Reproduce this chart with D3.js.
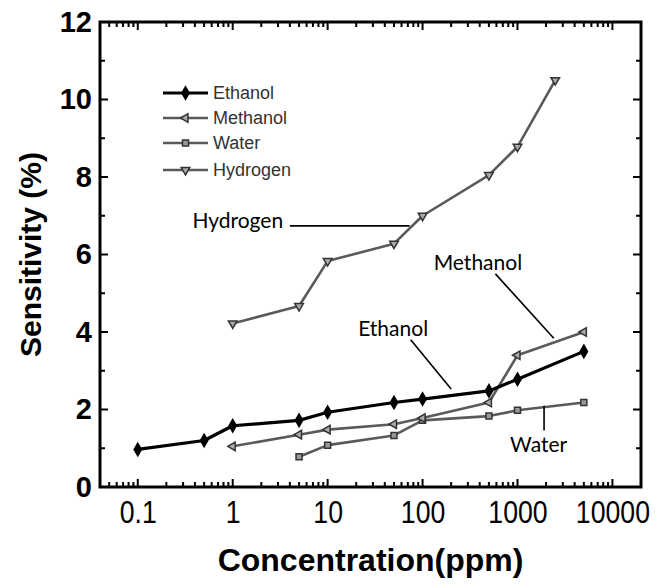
<!DOCTYPE html>
<html><head><meta charset="utf-8">
<script src="https://cdn.jsdelivr.net/npm/d3@7"></script>
<style>html,body{margin:0;padding:0;background:#fff;}svg{display:block;}</style>
</head><body>
<script>
// ---- data ----
const seriesNames = ["Ethanol","Methanol","Water","Hydrogen"];
const ethanolX  = [0.1, 0.5, 1, 5, 10, 50, 100, 500, 1000, 5000];
const ethanolY  = [0.97, 1.2, 1.58, 1.72, 1.93, 2.18, 2.27, 2.48, 2.78, 3.5];
const methanolX = [1, 5, 10, 50, 100, 500, 1000, 5000];
const methanolY = [1.05, 1.35, 1.48, 1.62, 1.78, 2.18, 3.4, 4.0];
const waterX    = [5, 10, 50, 100, 500, 1000, 5000];
const waterY    = [0.78, 1.08, 1.33, 1.72, 1.83, 1.98, 2.18];
const hydrogenX = [1, 5, 10, 50, 100, 500, 1000, 2500];
const hydrogenY = [4.22, 4.67, 5.83, 6.28, 7.0, 8.05, 8.78, 10.5];
const xTickValues = [0.1, 1, 10, 100, 1000, 10000];
const xTickLabels = ["0.1", "1", "10", "100", "1000", "10000"];
const yTickValues = [0, 2, 4, 6, 8, 10, 12];
const xTitle = "Concentration(ppm)";
const yTitle = "Sensitivity (%)";
// annotations in data space: label, text x/y, line from/to
const annotations = [
  {label:"Hydrogen", tx:3.4, ty:6.68, anchor:"end", x1:4.0, y1:6.74, x2:73, y2:6.74},
  {label:"Methanol", tx:383, ty:5.6, anchor:"middle", x1:585, y1:5.5, x2:2410, y2:3.84},
  {label:"Ethanol", tx:49, ty:3.9, anchor:"middle", x1:75, y1:3.8, x2:200, y2:2.53},
  {label:"Water", tx:1670, ty:0.9, anchor:"middle", x1:1905, y1:2.1, x2:1905, y2:1.46}
];

const W = 660, H = 585;
const svg = d3.select("body").append("svg").attr("width", W).attr("height", H);
const x = d3.scaleLog().domain([0.04, 20000]).range([100, 641]);
const y = d3.scaleLinear().domain([0, 12]).range([487, 22]);

const series = [
  {name:"Ethanol", xs:ethanolX, ys:ethanolY, color:"#000", width:3.2, sym:"diamond"},
  {name:"Methanol", xs:methanolX, ys:methanolY, color:"#5a5a5a", width:2.6, sym:"left"},
  {name:"Water", xs:waterX, ys:waterY, color:"#5a5a5a", width:2.6, sym:"square"},
  {name:"Hydrogen", xs:hydrogenX, ys:hydrogenY, color:"#5a5a5a", width:2.6, sym:"down"}
];

function marker(g, sym, cx, cy) {
  if (sym === "diamond") {
    g.append("path").attr("d", d3.symbol(d3.symbolDiamond, 70)())
      .attr("transform", `translate(${cx},${cy})`).attr("fill", "#000");
  } else if (sym === "left") {
    g.append("path").attr("d", d3.symbol(d3.symbolTriangle, 32)())
      .attr("transform", `translate(${cx},${cy}) rotate(-90)`)
      .attr("fill", "#aaa").attr("stroke", "#333").attr("stroke-width", 1.5);
  } else if (sym === "square") {
    g.append("path").attr("d", d3.symbol(d3.symbolSquare, 36)())
      .attr("transform", `translate(${cx},${cy})`)
      .attr("fill", "#999").attr("stroke", "#333").attr("stroke-width", 1.5);
  } else {
    g.append("path").attr("d", d3.symbol(d3.symbolTriangle, 32)())
      .attr("transform", `translate(${cx},${cy}) rotate(180)`)
      .attr("fill", "#aaa").attr("stroke", "#333").attr("stroke-width", 1.5);
  }
}

// ---- series ----
const plot = svg.append("g");
const line = d3.line().x(d => x(d[0])).y(d => y(d[1]));
series.slice().reverse().forEach(s => {
  const pts = s.xs.map((v, i) => [v, s.ys[i]]);
  plot.append("path").datum(pts).attr("d", line)
    .attr("fill", "none").attr("stroke", s.color).attr("stroke-width", s.width)
    .attr("stroke-linejoin", "round");
  pts.forEach(p => marker(plot, s.sym, x(p[0]), y(p[1])));
});

// ---- annotations ----
const ann = svg.append("g");
annotations.forEach(a => {
  ann.append("line").attr("x1", x(a.x1)).attr("y1", y(a.y1)).attr("x2", x(a.x2)).attr("y2", y(a.y2))
    .attr("stroke", "#000").attr("stroke-width", 1.6);
  ann.append("text").attr("x", x(a.tx)).attr("y", y(a.ty)).attr("text-anchor", a.anchor)
    .attr("font-family", "Lato, 'Open Sans', sans-serif").attr("font-size", 21).attr("fill", "#000")
    .text(a.label);
});

// ---- legend ----
const leg = svg.append("g");
const legY = [93, 118, 143, 170];
series.forEach((s, i) => {
  leg.append("line").attr("x1", 163).attr("x2", 208).attr("y1", legY[i]).attr("y2", legY[i])
    .attr("stroke", s.color).attr("stroke-width", s.width);
  marker(leg, s.sym, 185.5, legY[i]);
  leg.append("text").attr("x", 213).attr("y", legY[i] + 6).attr("font-family", "'Liberation Sans', Arial, sans-serif")
    .attr("font-size", 18).attr("fill", "#333").text(s.name);
});

// ---- frame & ticks ----
const [x0, x1] = x.range();
const [yb, yt] = y.range();
svg.append("rect").attr("x", x0).attr("y", yt).attr("width", x1 - x0).attr("height", yb - yt)
  .attr("fill", "none").attr("stroke", "#000").attr("stroke-width", 3);

const minorX = [];
for (let e = -2; e <= 4; e++) for (let m = 1; m <= 9; m++) {
  const v = m * Math.pow(10, e);
  if (v >= 0.04 && v <= 20000) minorX.push({v, major: m === 1});
}
const tk = svg.append("g").attr("stroke", "#000").attr("stroke-width", 2);
minorX.forEach(t => {
  const L = t.major ? 8 : 5;
  tk.append("line").attr("x1", x(t.v)).attr("x2", x(t.v)).attr("y1", yb).attr("y2", yb - L);
  tk.append("line").attr("x1", x(t.v)).attr("x2", x(t.v)).attr("y1", yt).attr("y2", yt + L);
});
d3.range(0, 13).forEach(v => {
  const L = v % 2 === 0 ? 8 : 5;
  tk.append("line").attr("x1", x0).attr("x2", x0 + L).attr("y1", y(v)).attr("y2", y(v));
  tk.append("line").attr("x1", x1).attr("x2", x1 - L).attr("y1", y(v)).attr("y2", y(v));
});

// ---- axis labels via d3 axes ----
const xAxis = svg.append("g").attr("transform", `translate(0,${yb})`)
  .call(d3.axisBottom(x).tickValues(xTickValues).tickFormat((d, i) => xTickLabels[i]).tickSize(0).tickPadding(14));
xAxis.select(".domain").remove();
xAxis.selectAll("text").attr("font-family", "'Liberation Sans', Arial, sans-serif").attr("font-size", 31)
  .attr("fill", "#000").attr("dy", "0.71em").attr("transform", "scale(0.86,1)");

const yAxis = svg.append("g").attr("transform", `translate(${x0},0)`)
  .call(d3.axisLeft(y).tickValues(yTickValues).tickFormat(d3.format("d")).tickSize(0).tickPadding(8));
yAxis.select(".domain").remove();
yAxis.selectAll("text").attr("font-family", "'Liberation Sans', Arial, sans-serif").attr("font-size", 29)
  .attr("font-weight", "bold").attr("fill", "#000");

svg.append("text").attr("x", (x0 + x1) / 2).attr("y", 571).attr("text-anchor", "middle")
  .attr("font-family", "'Liberation Sans', Arial, sans-serif").attr("font-weight", "bold").attr("font-size", 32)
  .text(xTitle);
svg.append("text").attr("transform", `translate(41,${(yb + yt) / 2}) rotate(-90)`).attr("text-anchor", "middle")
  .attr("font-family", "'Liberation Sans', Arial, sans-serif").attr("font-weight", "bold").attr("font-size", 30)
  .text(yTitle);
</script>
</body></html>
